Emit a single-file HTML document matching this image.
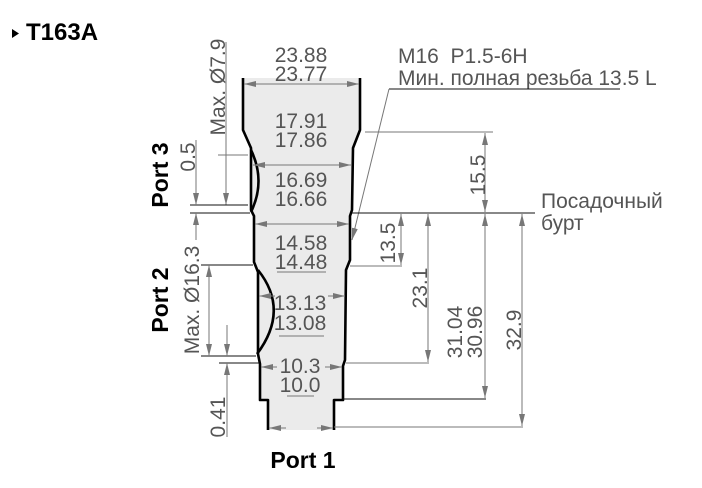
<!DOCTYPE html>
<html><head><meta charset="utf-8"><style>
html,body{margin:0;padding:0;background:#fff;}
svg{display:block;font-family:"Liberation Sans","Noto Sans CJK SC",sans-serif;}
.t{fill:#555;font-size:21px;}
.r{fill:#555;font-size:21px;text-anchor:middle;}
.d{stroke:#777;stroke-width:1;fill:none;}
.k{stroke:#111;stroke-width:1;fill:none;}
.p{stroke:#000;stroke-width:2.6;fill:none;stroke-linejoin:round;}
.b{font-size:23px;font-weight:bold;fill:#000;text-anchor:middle;}
</style></head><body>
<svg width="702" height="488" viewBox="0 0 702 488">
<defs>
<marker id="a" viewBox="0 0 12 6" refX="12" refY="3" markerWidth="12" markerHeight="6" orient="auto-start-reverse" markerUnits="userSpaceOnUse"><path d="M0,0 L12,3 L0,6 Z" fill="#777"/></marker>
</defs>
<path d="M12,29 L19,33.5 L12,38 Z" fill="#000"/>
<text x="26" y="40" font-size="24" font-weight="bold" fill="#000">T163A</text>

<path d="M243,78 L243,130 L251,148 L251,212 L254,218 L254,262 L258,272 L258,355 L260,365 L260,400 L268,400 L268,430 L334,430 L334,400 L343,400 L343,365 L345,360 L346,270 L351,258 L351,215 L352,210 L352,150 L360,130 L360,78 Z" fill="#ebebeb"/>
<path class="p" d="M243,78 L243,130 L251,148 L251,210 L254,216 L254,262 L258,272 L258,354 L260,364 L260,400 L268,400 L268,430"/>
<path class="p" d="M360,78 L360,130 L353,148 L352,210 L350,216 L350,260 L346,270 L345,360 L343,366 L343,400 L334,400 L334,430"/>
<path class="p" d="M251,150 Q266,181 251,212" stroke-width="2"/>
<path class="p" d="M258,270 Q290,310 257,354" stroke-width="2.2"/>

<line class="d" x1="244" y1="84" x2="359" y2="84" marker-start="url(#a)" marker-end="url(#a)"/>
<text class="r" x="301" y="62">23.88</text>
<text class="r" x="301" y="81">23.77</text>
<text class="r" x="301" y="128">17.91</text>
<text class="r" x="301" y="147">17.86</text>
<line class="d" x1="253" y1="165" x2="351" y2="165" marker-start="url(#a)" marker-end="url(#a)"/>
<text class="r" x="301" y="187">16.69</text>
<text class="r" x="301" y="206">16.66</text>
<line class="d" x1="255" y1="224" x2="349" y2="224" marker-start="url(#a)" marker-end="url(#a)"/>
<text class="r" x="301" y="250">14.58</text>
<text class="r" x="301" y="269">14.48</text>
<line class="d" x1="277" y1="272" x2="326" y2="272"/>
<line class="d" x1="259" y1="296" x2="275" y2="296" marker-start="url(#a)"/>
<line class="d" x1="328" y1="296" x2="345" y2="296" marker-end="url(#a)"/>
<text class="r" x="300" y="310">13.13</text>
<text class="r" x="300" y="330">13.08</text>
<line class="d" x1="279" y1="336" x2="324" y2="336"/>
<line class="d" x1="261" y1="367" x2="277" y2="367" marker-start="url(#a)"/>
<line class="d" x1="325" y1="367" x2="342" y2="367" marker-end="url(#a)"/>
<text class="r" x="300" y="373">10.3</text>
<text class="r" x="300" y="392">10.0</text>
<line class="d" x1="287" y1="396" x2="314" y2="396"/>
<line class="d" x1="269" y1="428" x2="286" y2="428" marker-start="url(#a)"/>
<line class="d" x1="317" y1="428" x2="333" y2="428" marker-end="url(#a)"/>

<text class="b" transform="translate(168,175) rotate(-90)">Port 3</text>
<text class="b" transform="translate(168,300) rotate(-90)">Port 2</text>
<text class="b" x="303" y="468">Port 1</text>

<line class="d" x1="226" y1="42" x2="226" y2="205"/>
<line class="d" x1="226" y1="155" x2="226" y2="205" marker-end="url(#a)"/>
<text class="r" transform="translate(225,87) rotate(-90)">Max. Ø7.9</text>
<line class="d" x1="218" y1="155" x2="248" y2="155"/>
<line class="k" x1="190" y1="205" x2="248" y2="205"/>
<line class="k" x1="190" y1="213" x2="250" y2="213"/>
<line class="d" x1="196" y1="140" x2="196" y2="205" marker-end="url(#a)"/>
<line class="d" x1="196" y1="213" x2="196" y2="240" marker-start="url(#a)"/>
<text class="r" transform="translate(195,157) rotate(-90)">0.5</text>
<line class="k" x1="201" y1="265" x2="253" y2="265"/>
<line class="k" x1="201" y1="356" x2="256" y2="356"/>
<line class="k" x1="219" y1="363" x2="259" y2="363"/>
<line class="d" x1="209" y1="265" x2="209" y2="356" marker-start="url(#a)" marker-end="url(#a)"/>
<text class="r" transform="translate(199,300) rotate(-90)">Max. Ø16.3</text>
<line class="d" x1="227" y1="325" x2="227" y2="356" marker-end="url(#a)"/>
<line class="d" x1="227" y1="363" x2="227" y2="437" marker-start="url(#a)"/>
<text class="r" transform="translate(225,417) rotate(-90)">0.41</text>

<text class="t" x="398" y="63">M16&#160; P1.5-6H</text>
<text class="t" x="398" y="85">Мин. полная резьба 13.5 L</text>
<line class="k" x1="389" y1="89" x2="620" y2="89"/>
<line class="d" x1="389" y1="89" x2="352" y2="240" marker-end="url(#a)"/>

<line class="d" x1="365" y1="132" x2="493" y2="132"/>
<line class="k" x1="352" y1="213" x2="535" y2="213"/>
<line class="d" x1="485" y1="133" x2="485" y2="212" marker-start="url(#a)" marker-end="url(#a)"/>
<text class="r" transform="translate(485,175) rotate(-90)">15.5</text>
<text class="t" x="541" y="208">Посадочный</text>
<text class="t" x="541" y="230">бурт</text>
<line class="d" x1="350" y1="266" x2="402" y2="266"/>
<line class="d" x1="401" y1="214" x2="401" y2="265" marker-start="url(#a)" marker-end="url(#a)"/>
<text class="r" transform="translate(395,243) rotate(-90)">13.5</text>
<line class="d" x1="346" y1="363" x2="429" y2="363"/>
<line class="d" x1="428" y1="214" x2="428" y2="362" marker-start="url(#a)" marker-end="url(#a)"/>
<text class="r" transform="translate(427,288) rotate(-90)">23.1</text>
<line class="k" x1="343" y1="399" x2="486" y2="399"/>
<line class="d" x1="485" y1="214" x2="485" y2="398" marker-start="url(#a)" marker-end="url(#a)"/>
<text class="r" transform="translate(462,332) rotate(-90)">31.04</text>
<text class="r" transform="translate(482,332) rotate(-90)">30.96</text>
<line class="d" x1="334" y1="427" x2="523" y2="427"/>
<line class="d" x1="522" y1="214" x2="522" y2="426" marker-start="url(#a)" marker-end="url(#a)"/>
<text class="r" transform="translate(521,330) rotate(-90)">32.9</text>
</svg>
</body></html>
